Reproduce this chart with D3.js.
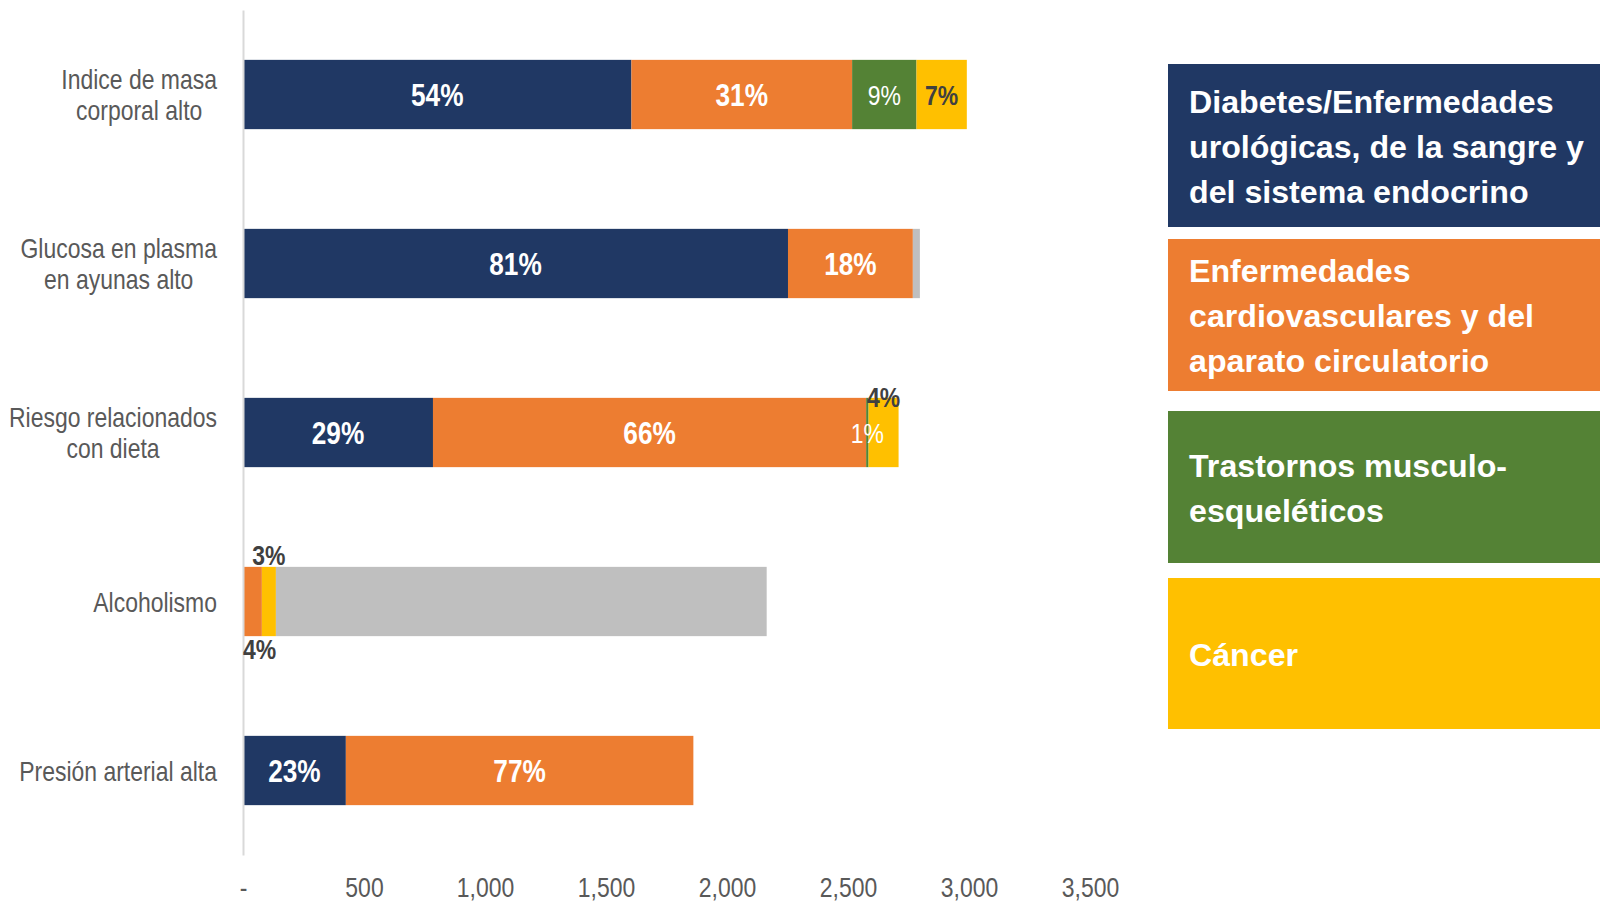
<!DOCTYPE html>
<html>
<head>
<meta charset="utf-8">
<script src="https://cdn.jsdelivr.net/npm/d3@7"></script>
<style>
  body { margin: 0; background: #fff; }
  svg { display: block; }
  text { font-family: "Liberation Sans", Arial, sans-serif; }
</style>
</head>
<body>
<div id="chart"></div>
<script>
// categories (top to bottom) and their wrapped labels
const categories = [
  "Indice de masa corporal alto",
  "Glucosa en plasma en ayunas alto",
  "Riesgo relacionados con dieta",
  "Alcoholismo",
  "Presión arterial alta"
];
const categoryLines = [
  ["Indice de masa", "corporal alto"],
  ["Glucosa en plasma", "en ayunas alto"],
  ["Riesgo relacionados", "con dieta"],
  ["Alcoholismo"],
  ["Presión arterial alta"]
];

// stacked segment values per category
const diabetes = [1605, 2252, 785, 0, 425];
const cardio   = [912, 516, 1790, 78, 1436];
const musculo  = [266, 0, 10, 0, 0];
const cancer   = [208, 0, 124, 58, 0];
const otros    = [0, 29, 0, 2028, 0];

// data labels shown on the segments
const labDiabetes = ["54%", "81%", "29%", "", "23%"];
const labCardio   = ["31%", "18%", "66%", "4%", "77%"];
const labMusculo  = ["9%", "", "1%", "", ""];
const labCancer   = ["7%", "", "4%", "3%", ""];

// axis ticks
const tickValues = [0, 500, 1000, 1500, 2000, 2500, 3000, 3500];

// legend entries
const legendNames = [
  ["Diabetes/Enfermedades", "urológicas, de la sangre y", "del sistema endocrino"],
  ["Enfermedades", "cardiovasculares y del", "aparato circulatorio"],
  ["Trastornos musculo-", "esqueléticos"],
  ["Cáncer"]
];

const series = [
  { key: "diabetes", values: diabetes, labels: labDiabetes, color: "#203864", fill: "#fff", weight: 700, size: 32 },
  { key: "cardio", values: cardio, labels: labCardio, color: "#ED7D31", fill: "#fff", weight: 700, size: 32 },
  { key: "musculo", values: musculo, labels: labMusculo, color: "#548235", fill: "#fff", weight: 400, size: 28 },
  { key: "cancer", values: cancer, labels: labCancer, color: "#FFC000", fill: "#404040", weight: 700, size: 28 },
  { key: "otros", values: otros, labels: [], color: "#BFBFBF", fill: "#404040", weight: 700, size: 28 }
];

// a few labels were dragged off their segment
const labelShift = {
  "2|cancer": -36,
  "3|cancer": -47,
  "3|cardio": 47
};

const width = 1600;
const height = 901;
const narrow = 0.82; // Arial Narrow look from Liberation Sans
const textColor = "#595959";

const svg = d3.select("#chart")
  .append("svg")
  .attr("width", width)
  .attr("height", height);

const rows = categories.map((c, i) => {
  const r = { category: c, index: i };
  series.forEach(s => { r[s.key] = s.values[i]; });
  return r;
});

const stacked = d3.stack().keys(series.map(s => s.key))(rows);

const x = d3.scaleLinear([0, 3500], [243, 1090]);
const y = d3.scaleBand(categories, [10, 855])
  .paddingInner(0.59)
  .paddingOuter(0.295);

// x axis labels
const xAxis = svg.append("g")
  .attr("class", "x-axis")
  .attr("transform", `translate(0, ${y.range()[1]})`)
  .call(d3.axisBottom(x)
    .tickValues(tickValues)
    .tickSize(0)
    .tickFormat(d => d === 0 ? "-" : d3.format(",")(d)));

xAxis.select(".domain").remove();
xAxis.selectAll("text")
  .attr("y", 0)
  .attr("dy", null)
  .attr("transform", `translate(0, 42) scale(${narrow}, 1)`)
  .attr("fill", textColor)
  .attr("font-size", 28);

// bars
const layer = svg.append("g")
  .attr("class", "bars")
  .selectAll("g")
  .data(stacked)
  .join("g")
  .attr("fill", (d, i) => series[i].color);

layer.selectAll("rect")
  .data(d => d)
  .join("rect")
  .attr("x", d => x(d[0]))
  .attr("y", d => y(d.data.category))
  .attr("width", d => x(d[1]) - x(d[0]))
  .attr("height", y.bandwidth());

// y axis line and category labels
const yAxis = svg.append("g")
  .attr("class", "y-axis")
  .attr("transform", `translate(${x(0)}, 0)`)
  .call(d3.axisLeft(y).tickSize(0).tickSizeOuter(0).tickFormat(""));

yAxis.select(".domain")
  .attr("stroke", "#D9D9D9")
  .attr("stroke-width", 2);
yAxis.selectAll(".tick text").remove();

const labelRight = 217;
const lineH = 31;

const catLabel = svg.append("g")
  .attr("class", "cat-labels")
  .selectAll("g")
  .data(categories)
  .join("g");

catLabel.each(function (c, i) {
  const g = d3.select(this);
  const lines = categoryLines[i];
  const t = g.append("text")
    .attr("fill", textColor)
    .attr("font-size", 28)
    .attr("text-anchor", "middle");
  t.selectAll("tspan")
    .data(lines)
    .join("tspan")
    .attr("x", 0)
    .attr("y", (d, j) => (j - (lines.length - 1) / 2) * lineH + 10)
    .text(d => d);
  const maxW = d3.max(t.selectAll("tspan").nodes(), n => n.getComputedTextLength()) * narrow;
  const cy = y(c) + y.bandwidth() / 2;
  g.attr("transform", `translate(${labelRight - maxW / 2}, ${cy}) scale(${narrow}, 1)`);
});

// data labels
const valueLabels = [];
stacked.forEach((layerData, si) => {
  const s = series[si];
  layerData.forEach((d, ri) => {
    const text = s.labels[ri];
    if (!text) return;
    const shift = labelShift[`${ri}|${s.key}`];
    valueLabels.push({
      text,
      x: (x(d[0]) + x(d[1])) / 2,
      y: y(d.data.category) + y.bandwidth() / 2 + (shift || 0),
      fill: shift ? "#404040" : s.fill,
      weight: s.weight,
      size: shift ? 28 : s.size
    });
  });
});

const vl = svg.append("g")
  .attr("class", "value-labels")
  .selectAll("text")
  .data(valueLabels)
  .join("text")
  .attr("text-anchor", "middle")
  .attr("font-size", d => d.size)
  .attr("font-weight", d => d.weight)
  .attr("fill", d => d.fill)
  .text(d => d.text);

// keep labels inside the plot on the left side
vl.attr("transform", function (d) {
  const half = this.getComputedTextLength() * narrow / 2;
  const cx = Math.max(d.x, x(0) + half);
  return `translate(${cx}, ${d.y + d.size * 0.358}) scale(${narrow}, 1)`;
});

// legend
const legendBoxes = [[64, 227], [239, 391], [411, 563], [578, 729]];
const legendLineH = 45;

const legend = svg.append("g")
  .attr("class", "legend")
  .selectAll("g")
  .data(legendNames)
  .join("g");

legend.append("rect")
  .attr("x", 1168)
  .attr("y", (d, i) => legendBoxes[i][0])
  .attr("width", width - 1168)
  .attr("height", (d, i) => legendBoxes[i][1] - legendBoxes[i][0])
  .attr("fill", (d, i) => series[i].color);

const legendText = legend.append("text")
  .attr("fill", "#fff")
  .attr("font-family", "Lato, 'Open Sans', sans-serif")
  .attr("font-weight", 700)
  .attr("font-size", 100);

legendText.selectAll("tspan")
  .data((d, i) => d.map((line, j) => ({ line, j, n: d.length, i })))
  .join("tspan")
  .attr("x", 1189)
  .attr("y", d => {
    const mid = (legendBoxes[d.i][0] + legendBoxes[d.i][1]) / 2;
    return mid + (d.j - (d.n - 1) / 2) * legendLineH;
  })
  .text(d => d.line);

// fit the legend font so the first two lines span about as in the reference
const probe = legendText.filter((d, i) => i === 0).selectAll("tspan").nodes()
  .slice(0, 2)
  .reduce((sum, n) => sum + n.getComputedTextLength(), 0);
const legendSize = 100 * (373 + 387) / probe;
legendText.attr("font-size", legendSize)
  .selectAll("tspan")
  .attr("dy", legendSize * 0.38);
</script>
</body>
</html>
